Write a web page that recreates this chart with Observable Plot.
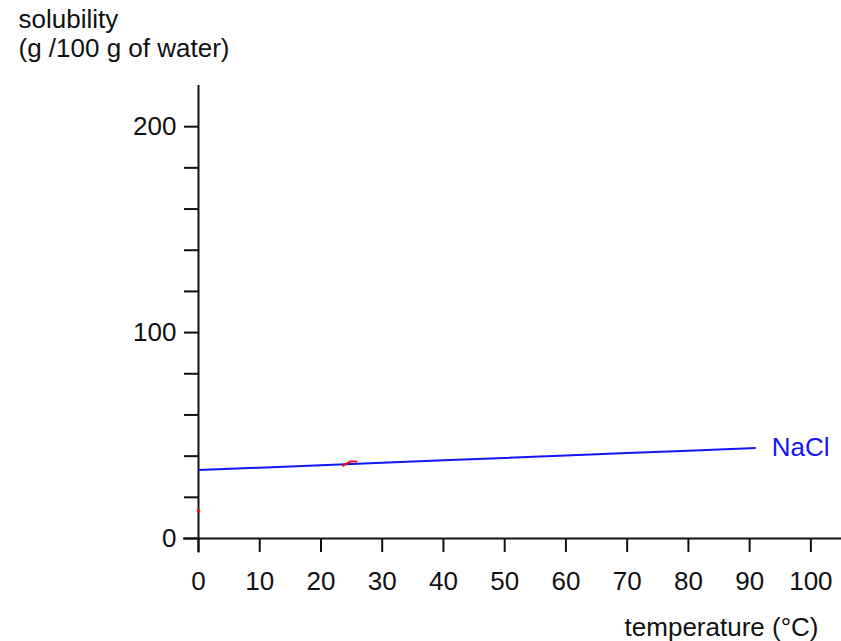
<!DOCTYPE html>
<html>
<head>
<meta charset="utf-8">
<script src="https://cdn.jsdelivr.net/npm/d3@7"></script>
<script src="https://cdn.jsdelivr.net/npm/@observablehq/plot@0.6"></script>
<style>
  html, body { margin: 0; padding: 0; background: #fff; }
  #chart svg { display: block; }
</style>
</head>
<body>
<div id="chart"></div>
<script>
// Data
const naclTemps = [0, 10, 20, 30, 40, 50, 60, 70, 80, 91];
const naclSolubility = [33.3, 34.4, 35.6, 36.8, 38.0, 39.1, 40.3, 41.5, 42.6, 43.9];
const redTemps = [23.6, 24.8, 25.8];
const redSolubility = [35.4, 37.4, 37.4];
const redDotTemp = [0];
const redDotSolubility = [13.3];
const xTicks = [0, 10, 20, 30, 40, 50, 60, 70, 80, 90, 100];
const yTicks = [0, 20, 40, 60, 80, 100, 120, 140, 160, 180, 200];
const yLabelled = [0, 100, 200];
const seriesName = "NaCl";
const yTitle = "solubility\n(g /100 g of water)";
const xTitle = "temperature (°C)";

const nacl = naclTemps.map((t, i) => ({t, s: naclSolubility[i]}));
const red = redTemps.map((t, i) => ({t, s: redSolubility[i]}));
const redDot = redDotTemp.map((t, i) => ({t, s: redDotSolubility[i]}));

const font = "Liberation Sans, Arial, Helvetica, sans-serif";
const ink = "#111";
const blue = "#1414f5";
const fs = 26;

const chart = Plot.plot({
  width: 841,
  height: 641,
  marginLeft: 198,
  marginRight: 0,
  marginTop: 85,
  marginBottom: 103,
  style: {fontFamily: font, fontSize: fs + "px", color: ink, background: "#fff"},
  x: {domain: [0, 105]},
  y: {domain: [0, 220]},
  marks: [
    Plot.axisY({ticks: yTicks, tickSize: 14, tickPadding: 8, tickFormat: d => yLabelled.includes(d) ? String(d) : "", label: null, fontSize: fs, strokeWidth: 2}),
    Plot.axisX({ticks: xTicks, tickSize: 14, tickPadding: 19, tickFormat: d => String(d), label: null, fontSize: fs, strokeWidth: 2}),
    Plot.ruleY([0], {x1: -2.45, x2: 105, stroke: ink, strokeWidth: 2}),
    Plot.ruleX([0], {y1: -7, y2: 220, stroke: ink, strokeWidth: 2}),
    Plot.line(nacl, {x: "t", y: "s", stroke: blue, strokeWidth: 2, strokeLinecap: "butt"}),
    Plot.line(red, {x: "t", y: "s", stroke: "#ee1111", strokeWidth: 2.2}),
    Plot.dot(redDot, {x: "t", y: "s", r: 1.8, fill: "#ee1111", stroke: null}),
    Plot.text(nacl.slice(-1), {x: "t", y: "s", text: () => seriesName, textAnchor: "start", dx: 16, fill: blue, fontSize: fs}),
    Plot.text([yTitle], {frameAnchor: "top-left", textAnchor: "start", lineAnchor: "bottom", dx: -180, dy: -29, lineHeight: 1.08, fill: ink, fontSize: fs}),
    Plot.text([xTitle], {frameAnchor: "bottom-right", textAnchor: "end", lineAnchor: "bottom", dx: -23, dy: 97, fill: ink, fontSize: fs})
  ]
});
document.getElementById("chart").appendChild(chart);
</script>
</body>
</html>
